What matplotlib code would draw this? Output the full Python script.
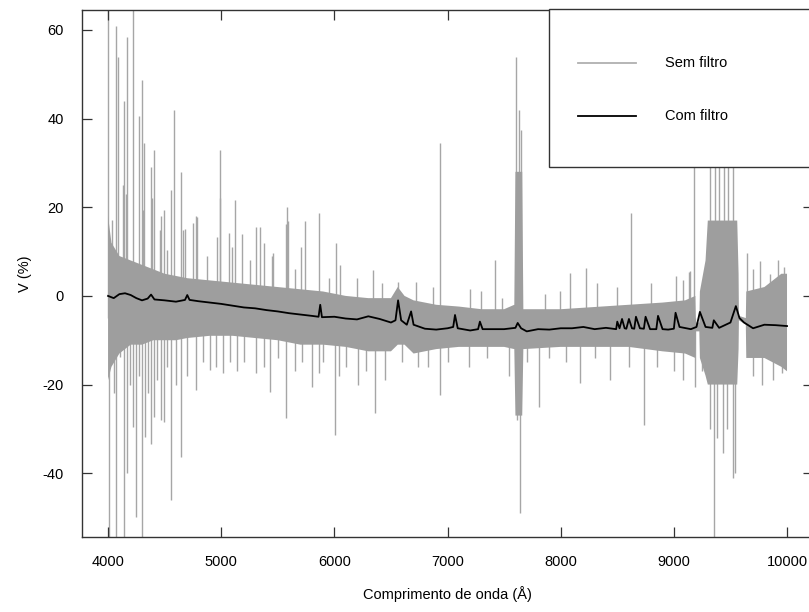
import matplotlib.pyplot as plt
from matplotlib.patches import Rectangle

plt.rcParams['font.family'] = ['Liberation Sans', 'DejaVu Sans']
plt.rcParams['font.size'] = 10.5
plt.rcParams['axes.unicode_minus'] = False

# Dense noise band of the unfiltered spectrum
band_wl = [4000, 4030, 4100, 4200, 4300, 4400, 4500, 4600, 4700, 4900, 5100, 5300,
           5500, 5700, 5900, 6100, 6300, 6500, 6560, 6620, 6700, 6900, 7100, 7300,
           7500, 7590, 7600, 7660, 7670, 8000, 8300, 8600, 8900, 9100, 9190, 9195,
           9225, 9230, 9280, 9300, 9560, 9572, 9575, 9636, 9640, 9800, 9950, 10000]
band_hi = [18, 12, 9, 8, 7, 6, 5, 4.5, 4, 3.5, 3, 2.5,
           2, 1.5, 1, 0, -0.5, -0.5, 2, 0, -1, -2, -2.4, -3,
           -3, -2, 28, 28, -3, -3, -2.5, -2, -1.5, -1, 0, -6,
           -6, 1, 8, 17, 17, 5, -4.5, -5, 1, 2, 5, 5]
band_lo = [-19, -16, -13, -11, -11, -10, -10, -10, -9.5, -9, -9, -9.5,
           -10, -11, -11, -11.5, -12.5, -12.5, -11, -11, -13, -12, -11.5, -11.5,
           -11.5, -12, -27, -27, -12, -11.5, -11.5, -11.5, -12.5, -13, -14, -8,
           -8, -14, -18, -20, -20, -12, -5.5, -6.5, -14, -14, -16, -17]

# Isolated spikes of the unfiltered spectrum (tips)
up_wl = [4003, 4033, 4068, 4085, 4133, 4141, 4160, 4165, 4218, 4274, 4300, 4309,
         4321, 4380, 4386, 4406, 4459, 4465, 4494, 4519, 4556, 4580, 4645, 4662,
         4680, 4748, 4777, 4783, 4872, 4960, 4986, 4989, 5069, 5092, 5122, 5181,
         5250, 5307, 5343, 5378, 5450, 5460, 5572, 5578, 5593, 5650, 5702, 5743,
         5861, 5950, 6011, 6050, 6197, 6341, 6420, 6563, 6721, 6871, 6936, 7198,
         7300, 7416, 7478, 7607, 7628, 7651, 7860, 7993, 8081, 8228, 8317, 8500,
         8617, 8800, 9018, 9081, 9135, 9141, 9180, 9320, 9360, 9400, 9440, 9480,
         9520, 9646, 9700, 9760, 9850, 9920, 9972]
up_v = [70, 17.2, 60.8, 54, 25, 44, 23, 58.5, 70, 40.5, 48.8, 19.4,
        34.5, 29, 22, 33, 14.9, 18, 19.4, 10.4, 24, 42, 28, 14.9,
        15, 16.4, 18, 17.9, 8.9, 13.4, 33, 22, 14.2, 11.1, 21.7, 13.9,
        8, 15.6, 15.6, 11.9, 9, 9.7, 16.3, 20, 16.8, 6, 11, 16.8,
        18.7, 4, 12, 7, 4, 5.9, 3, 3.2, 3.2, 2, 34.5, 1.5,
        1, 8.1, -0.5, 54, 42, 37.5, 0.5, 1, 5.2, 6.3, 2.9, 2,
        18.7, 3, 4.4, 3.6, 5.5, 5.7, 35, 35, 35, 35, 35, 35,
        35, 9.7, 6, 7.8, 5, 8, 6.6]
dn_wl = [4009, 4050, 4068, 4106, 4138, 4165, 4190, 4221, 4245, 4270, 4297, 4327,
         4350, 4380, 4406, 4430, 4468, 4494, 4520, 4556, 4600, 4645, 4700, 4774,
         4840, 4901, 4950, 5019, 5080, 5141, 5200, 5307, 5380, 5431, 5500, 5570,
         5650, 5711, 5802, 5861, 5900, 6008, 6041, 6100, 6208, 6280, 6356, 6450,
         6600, 6736, 6830, 6933, 7000, 7189, 7350, 7540, 7611, 7643, 7700, 7810,
         7900, 8050, 8170, 8300, 8435, 8600, 8738, 8850, 9000, 9077, 9186, 9250,
         9320, 9353, 9380, 9433, 9470, 9521, 9540, 9700, 9783, 9880, 9960]
dn_v = [-60, -22, -60, -13.7, -60, -40, -20, -29.5, -49.9, -18, -60, -31.8,
        -22, -33.3, -27.3, -19, -28, -28.5, -16, -46, -20, -36.3, -18, -21.2,
        -15, -16.7, -16, -17.5, -15, -17, -15, -17.5, -16, -21.6, -14, -27.6,
        -17, -15, -20.5, -17.5, -15, -31.4, -18, -16, -20, -17, -26.5, -19,
        -15, -16, -16, -22.3, -15, -16, -14, -18, -28, -49, -15, -25,
        -14, -15, -19.7, -14, -19, -16, -29.1, -16, -17, -19, -20.5, -17,
        -30, -60, -32, -35.5, -30, -41, -40, -18, -20, -19, -17.5]

# Filtered spectrum
filt_wl = [4000, 4050, 4100, 4150, 4200, 4250, 4300, 4350, 4380, 4410, 4500, 4600,
           4680, 4700, 4720, 4800, 4900, 5000, 5100, 5200, 5300, 5400, 5500, 5600,
           5700, 5800, 5860, 5875, 5890, 6000, 6100, 6200, 6300, 6400, 6500, 6540,
           6563, 6590, 6640, 6678, 6700, 6800, 6900, 7000, 7050, 7066, 7090, 7200,
           7270, 7286, 7310, 7500, 7600, 7620, 7650, 7700, 7800, 7900, 8000, 8100,
           8200, 8300, 8400, 8490, 8500, 8520, 8542, 8565, 8580, 8603, 8630, 8650,
           8665, 8700, 8735, 8750, 8790, 8845, 8860, 8900, 8950, 9000, 9015, 9050,
           9150, 9200, 9230, 9280, 9340, 9353, 9400, 9500, 9548, 9580, 9620, 9700,
           9800, 9900, 10000]
filt_v = [0, -0.5, 0.4, 0.6, 0.2, -0.5, -1, -0.6, 0.3, -0.8, -1, -1.3,
          -0.9, 0.2, -0.9, -1.2, -1.5, -1.8, -2.2, -2.6, -2.8, -3.2, -3.5, -3.9,
          -4.2, -4.5, -4.7, -2, -4.8, -4.7, -5.1, -5.3, -4.6, -5.2, -6, -5.5,
          -1.0, -5.5, -6.5, -3.5, -6.5, -7.4, -7.6, -7.3, -7.0, -4.3, -7.3, -7.8,
          -7.5, -5.8, -7.5, -7.5, -7.2, -6.1, -7.3, -8, -7.5, -7.6, -7.3, -7.3,
          -7, -7.5, -7.2, -7.5, -5.8, -7.3, -5.2, -7.3, -7.4, -5.2, -7.3, -7.4,
          -4.7, -7.3, -7.4, -4.7, -7.5, -7.5, -4.5, -7.5, -7.6, -7.4, -3.8, -7,
          -7.5, -7, -3.6, -7, -7.2, -5.5, -7.2, -6, -2.3, -5, -6, -7.3,
          -6.5, -6.6, -6.8]

xticks = [4000, 5000, 6000, 7000, 8000, 9000, 10000]
yticks = [-40, -20, 0, 20, 40, 60]

grey = '#9e9e9e'

fig = plt.figure(figsize=(8.09, 6.12), dpi=100)
ax = fig.add_axes([0.1014, 0.1225, 0.9036, 0.8611])

# spikes first, band on top so the spikes only show outside it
ax.vlines(up_wl, -5, up_v, color='#a6a6a6', lw=1.0, zorder=1)
ax.vlines(dn_wl, dn_v, -5, color='#a6a6a6', lw=1.0, zorder=1)
ax.fill_between(band_wl, band_lo, band_hi, facecolor=grey, edgecolor='none', zorder=2)
ax.plot(filt_wl, filt_v, color='black', lw=1.3, zorder=3)

ax.set_xlim(3770, 10230)
ax.set_ylim(-54.4, 64.5)
ax.set_xticks(xticks)
ax.set_yticks(yticks)
ax.tick_params(direction='in', length=7, width=0.9, top=True, right=True,
               pad=13, color='#333333')
for s in ax.spines.values():
    s.set_color('#333333')
    s.set_linewidth(1.0)

ax.set_xlabel('Comprimento de onda (Å)', labelpad=12)
ax.set_ylabel('V (%)', labelpad=8)

# legend box drawn by hand to follow the original layout
ax.add_patch(Rectangle((0.639, 0.702), 0.4, 0.3, transform=ax.transAxes,
                       facecolor='white', edgecolor='#333333', lw=1.0, zorder=5,
                       clip_on=False))
ax.plot([0.6785, 0.758], [0.8994, 0.8994], transform=ax.transAxes,
        color='#b0b0b0', lw=1.3, zorder=6)
ax.plot([0.6785, 0.758], [0.7989, 0.7989], transform=ax.transAxes,
        color='black', lw=1.3, zorder=6)
ax.text(0.7975, 0.8994, 'Sem filtro', transform=ax.transAxes, va='center', zorder=6)
ax.text(0.7975, 0.7989, 'Com filtro', transform=ax.transAxes, va='center', zorder=6)

plt.savefig('out.png', dpi=100)
